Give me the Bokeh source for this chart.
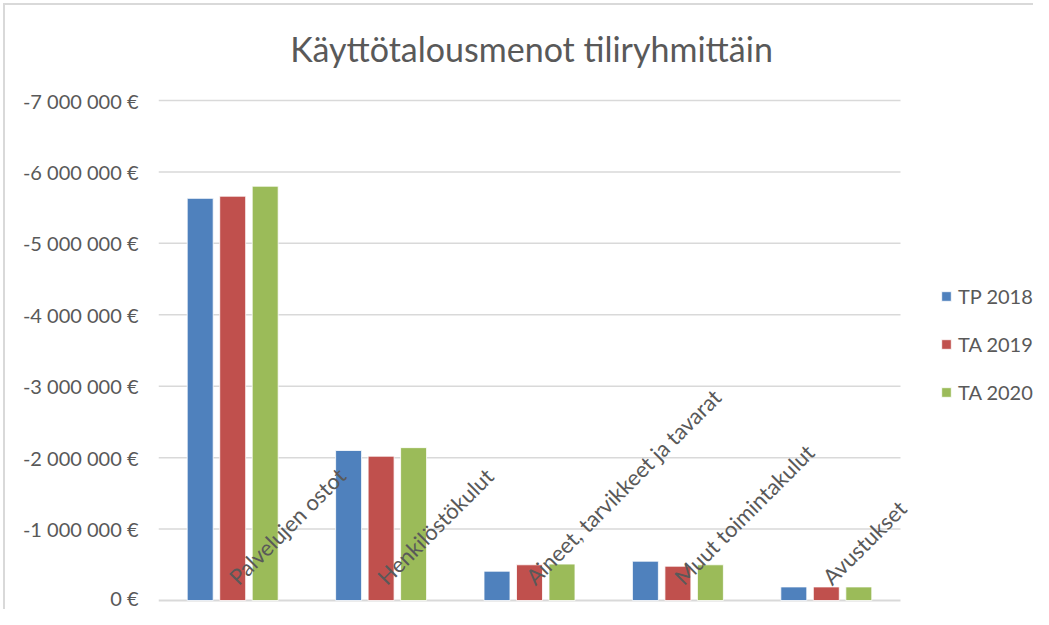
import numpy as np
from bokeh.plotting import figure
from bokeh.models import (ColumnDataSource, Range1d, FixedTicker, InlineStyleSheet,
                          CustomJSTickFormatter, Legend, LegendItem, Label)
from bokeh.core.properties import value
from bokeh.embed import file_html
from bokeh.resources import INLINE

categories = ["Palvelujen ostot", "Henkilöstökulut", "Aineet, tarvikkeet ja tavarat",
              "Muut toimintakulut", "Avustukset"]
series_names = ["TP 2018", "TA 2019", "TA 2020"]
tp2018 = [-5630000, -2100000, -410000, -550000, -190000]
ta2019 = [-5660000, -2020000, -500000, -480000, -190000]
ta2020 = [-5800000, -2140000, -510000, -500000, -190000]
y_ticks = [0, -1000000, -2000000, -3000000, -4000000, -5000000, -6000000, -7000000]
colors = ["#4F81BD", "#C0504D", "#9BBB59"]
title_text = "Käyttötalousmenot tiliryhmittäin"

FONT = "Lato"
GREY = "#595959"
GRID = "#D9D9D9"

n = len(categories)
centers = np.arange(n) + 0.5          # category slot centres on the axis scale

W, H = 1033, 609
FL, FT, FB = 158, 10, 607             # frame edges in px
cat_px = 742 / n                      # px per category slot
px_per_unit = 500 / 7000000           # value scale
y_start = (FB - 600) / px_per_unit    # 0 sits 7px above frame bottom
y_end = y_start - (FB - FT) / px_per_unit
x_end = (W - FL) / cat_px

src = ColumnDataSource(dict(x=centers, cat=categories, tp2018=tp2018, ta2019=ta2019,
                            ta2020=ta2020, lab_y=[-280000] * n))

p = figure(width=W, height=H, output_backend="svg", toolbar_location=None,
           x_range=Range1d(0, x_end), y_range=Range1d(y_start, y_end),
           min_border_left=FL, min_border_right=0, min_border_top=FT,
           min_border_bottom=H - FB)
p.outline_line_color = None
p.background_fill_color = "white"
p.border_fill_color = "white"
p.xaxis.visible = False
p.xgrid.grid_line_color = None
p.ygrid.grid_line_color = None

# chart-area border (top and left edges, as in the reference)
p.stylesheets = [InlineStyleSheet(css="""
:host { position: relative; }
:host::before { content: ""; position: absolute; left: 3px; top: 3px; width: 2px;
                height: 606px; background: #D9D9D9; z-index: 10; pointer-events: none; }
:host::after  { content: ""; position: absolute; left: 3px; top: 3px; height: 2px;
                width: 1030px; background: #D9D9D9; z-index: 10; pointer-events: none; }
""")]

# gridlines (only across the category area) and the category axis line
gsrc = ColumnDataSource(dict(y=y_ticks[1:], x0=[0] * (len(y_ticks) - 1),
                             x1=[n] * (len(y_ticks) - 1)))
p.segment(x0="x0", x1="x1", y0="y", y1="y", source=gsrc, line_color=GRID, line_width=1.5)
p.segment(x0=[0], x1=[n], y0=[y_ticks[0]], y1=[y_ticks[0]], line_color=GRID, line_width=2)

renderers = []
for col, off, color in zip(["tp2018", "ta2019", "ta2020"], [-0.219, 0.0, 0.219], colors):
    r = p.vbar(x=[c + off for c in centers], top=src.data[col], bottom=0, width=0.175,
               fill_color=color, line_color="white", line_width=0.8)
    renderers.append(r)

p.text(x="x", y="lab_y", text="cat", source=src,
       angle=45, angle_units="deg", text_align="left", text_baseline="alphabetic",
       text_font=value(FONT), text_font_size="22px", text_color=GREY)

p.add_layout(Label(x=n / 2, y=-7728000, text=title_text, text_align="center",
                   text_baseline="middle", x_offset=2, text_font=FONT,
                   text_font_size="34px", text_color=GREY))

p.yaxis.ticker = FixedTicker(ticks=y_ticks)
p.yaxis.formatter = CustomJSTickFormatter(code="""
    const s = Math.abs(tick).toFixed(0).replace(/\\B(?=(\\d{3})+(?!\\d))/g, ' ');
    return (tick < 0 ? '-' : '') + s + ' €';
""")
p.yaxis.axis_line_color = None
p.yaxis.major_tick_line_color = None
p.yaxis.minor_tick_line_color = None
p.yaxis.major_tick_out = 0
p.yaxis.major_tick_in = 0
p.yaxis.major_label_text_font = FONT
p.yaxis.major_label_text_font_size = "20px"
p.yaxis.major_label_text_color = GREY
p.yaxis.major_label_standoff = 20

legend = Legend(items=[LegendItem(label=s, renderers=[r]) for s, r in zip(series_names, renderers)],
                location=(782, 203), orientation="vertical",
                label_text_font=FONT, label_text_font_size="20px", label_text_color=GREY,
                glyph_width=12, glyph_height=12, label_height=20, spacing=24,
                padding=0, margin=0, border_line_color=None, background_fill_alpha=0,
                label_standoff=6)
p.add_layout(legend, "center")

open("out.html", "w").write(file_html(p, INLINE))
